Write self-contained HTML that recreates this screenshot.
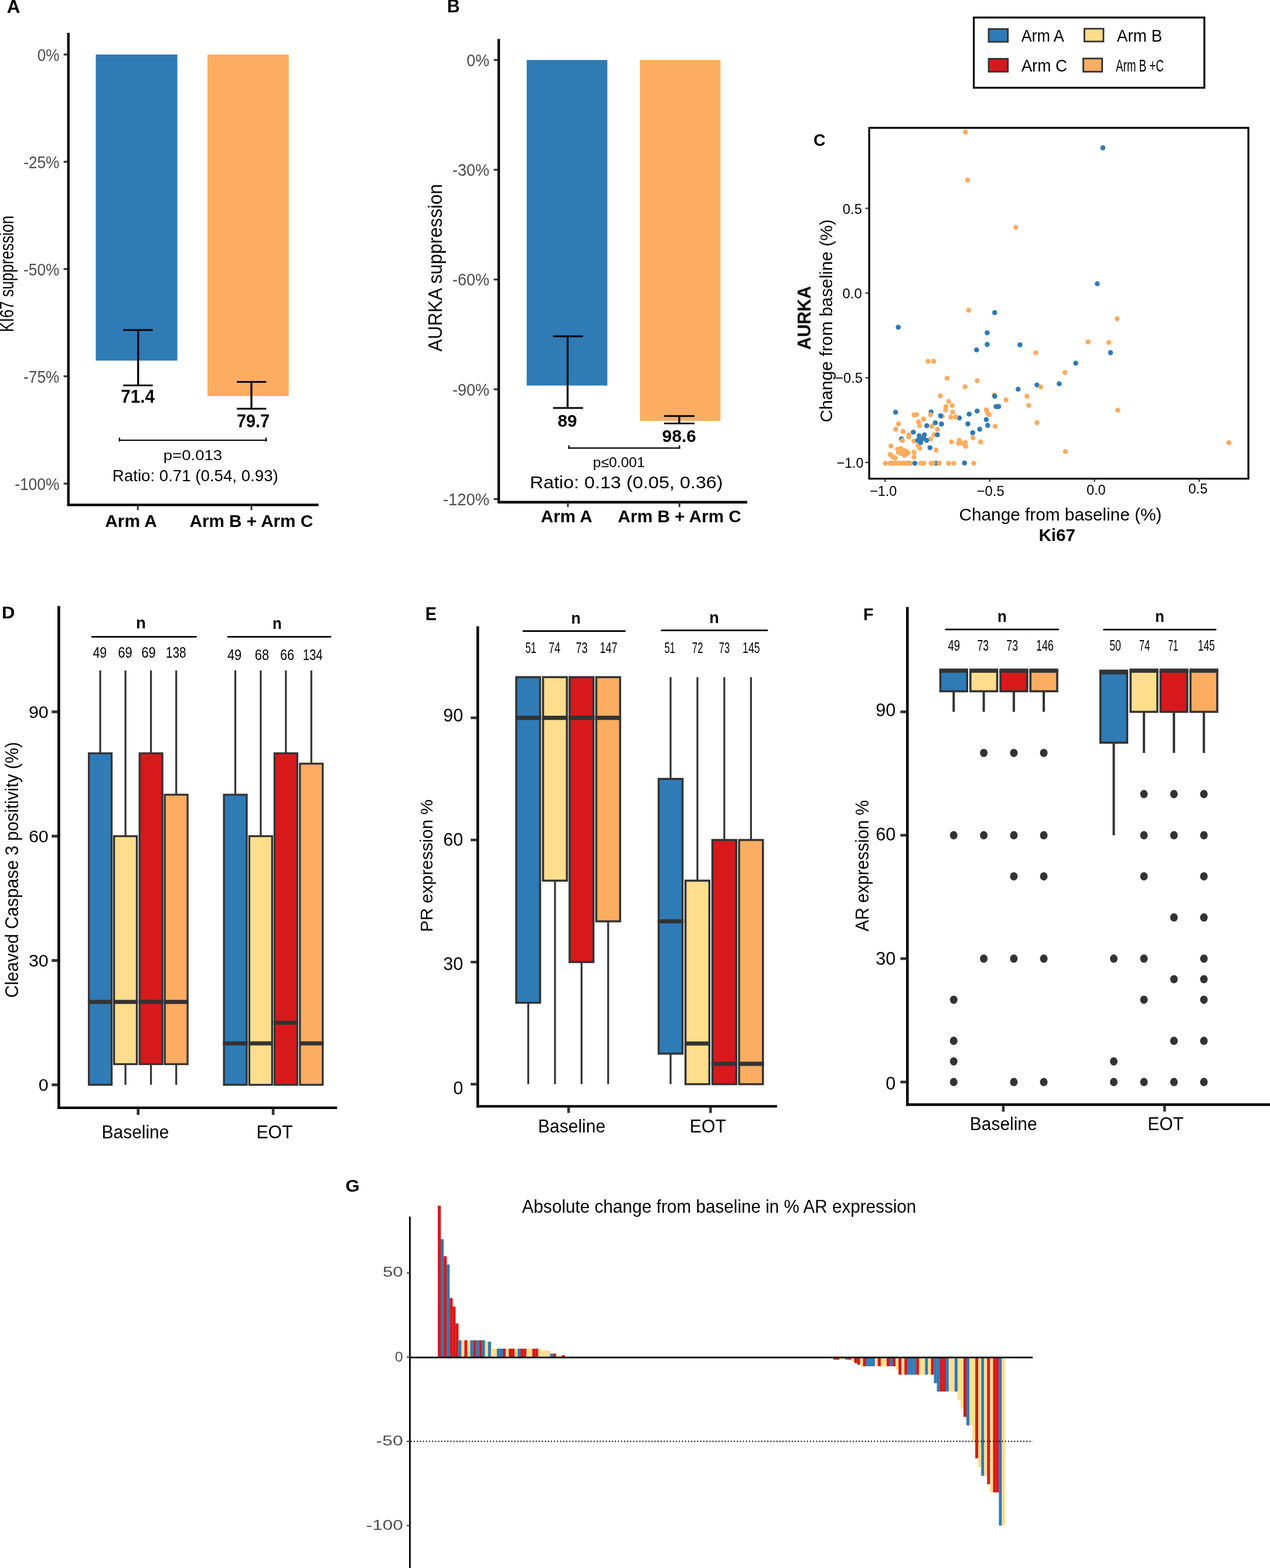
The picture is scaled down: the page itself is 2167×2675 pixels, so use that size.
<!DOCTYPE html><html><head><meta charset="utf-8"><title>Figure</title><style>html,body{margin:0;padding:0;background:#fff;}svg{display:block;}text{font-family:'Liberation Sans', Arial, sans-serif;}</style></head><body>
<svg width="2167" height="2675" viewBox="0 0 2167 2675">
<rect width="2167" height="2675" fill="#fff"/>
<text font-size="32.0" font-weight="bold" transform="translate(11.82 21.70) scale(0.9780 1)">A</text>
<text font-size="33.0" transform="translate(23.00 566.61) rotate(-90) scale(0.7792 1)">KI67 suppression</text>
<rect x="163.5" y="93.0" width="139.1" height="522.2" fill="#2E7BB6"/>
<rect x="354.0" y="93.0" width="138.6" height="582.8" fill="#FCAD61"/>
<line x1="116.7" y1="56.0" x2="116.7" y2="863.0" stroke="#000" stroke-width="4.3"/>
<line x1="114.6" y1="861.4" x2="543.5" y2="861.4" stroke="#000" stroke-width="4.4"/>
<line x1="108.6" y1="93.0" x2="115.0" y2="93.0" stroke="#333333" stroke-width="3.2"/>
<text font-size="30.0" fill="#4D4D4D" transform="translate(63.68 103.60) scale(0.8704 1)">0%</text>
<line x1="108.6" y1="276.0" x2="115.0" y2="276.0" stroke="#333333" stroke-width="3.2"/>
<text font-size="30.0" fill="#4D4D4D" transform="translate(40.14 286.60) scale(0.8751 1)">-25%</text>
<line x1="108.6" y1="459.0" x2="115.0" y2="459.0" stroke="#333333" stroke-width="3.2"/>
<text font-size="30.0" fill="#4D4D4D" transform="translate(40.04 469.60) scale(0.8766 1)">-50%</text>
<line x1="108.6" y1="642.0" x2="115.0" y2="642.0" stroke="#333333" stroke-width="3.2"/>
<text font-size="30.0" fill="#4D4D4D" transform="translate(40.04 652.60) scale(0.8766 1)">-75%</text>
<line x1="108.6" y1="825.0" x2="115.0" y2="825.0" stroke="#333333" stroke-width="3.2"/>
<text font-size="30.0" fill="#4D4D4D" transform="translate(25.14 835.60) scale(0.8799 1)">-100%</text>
<line x1="235.2" y1="861.3" x2="235.2" y2="870.3" stroke="#333333" stroke-width="3.0"/>
<line x1="429.0" y1="861.3" x2="429.0" y2="870.3" stroke="#333333" stroke-width="3.0"/>
<line x1="235.7" y1="563.0" x2="235.7" y2="657.5" stroke="#000" stroke-width="3.3"/>
<line x1="210.2" y1="563.0" x2="260.6" y2="563.0" stroke="#000" stroke-width="2.9"/>
<line x1="210.2" y1="657.5" x2="260.6" y2="657.5" stroke="#000" stroke-width="2.9"/>
<line x1="429.0" y1="651.5" x2="429.0" y2="697.3" stroke="#000" stroke-width="3.3"/>
<line x1="404.0" y1="651.5" x2="454.4" y2="651.5" stroke="#000" stroke-width="2.9"/>
<line x1="404.0" y1="697.3" x2="454.4" y2="697.3" stroke="#000" stroke-width="2.9"/>
<text font-size="30.5" font-weight="bold" transform="translate(206.33 686.90) scale(0.9691 1)">71.4</text>
<text font-size="30.5" font-weight="bold" transform="translate(404.06 728.50) scale(0.9453 1)">79.7</text>
<line x1="202.8" y1="751.0" x2="455.2" y2="751.0" stroke="#000" stroke-width="2.2"/>
<line x1="203.9" y1="746.6" x2="203.9" y2="753.2" stroke="#000" stroke-width="2.2"/>
<line x1="454.1" y1="746.6" x2="454.1" y2="753.2" stroke="#000" stroke-width="2.2"/>
<text font-size="24.7" transform="translate(278.71 785.40) scale(1.1173 1)">p=0.013</text>
<text font-size="27.6" transform="translate(191.83 820.80) scale(1.0027 1)">Ratio: 0.71 (0.54, 0.93)</text>
<text font-size="29.6" font-weight="bold" transform="translate(179.15 898.80) scale(1.0105 1)">Arm A</text>
<text font-size="29.6" font-weight="bold" transform="translate(323.56 898.80) scale(1.0019 1)">Arm B + Arm C</text>
<text font-size="31.5" font-weight="bold" transform="translate(762.77 21.00) scale(0.9628 1)">B</text>
<text font-size="32.5" transform="translate(753.90 599.76) rotate(-90) scale(0.9710 1)">AURKA suppression</text>
<rect x="898.7" y="102.3" width="137.6" height="555.4" fill="#2E7BB6"/>
<rect x="1092.0" y="102.3" width="137.4" height="615.7" fill="#FCAD61"/>
<line x1="851.0" y1="66.5" x2="851.0" y2="858.0" stroke="#000" stroke-width="4.3"/>
<line x1="849.0" y1="856.8" x2="1275.0" y2="856.8" stroke="#000" stroke-width="4.4"/>
<line x1="842.5" y1="102.3" x2="849.5" y2="102.3" stroke="#333333" stroke-width="3.2"/>
<text font-size="28.7" fill="#4D4D4D" transform="translate(796.36 112.80) scale(0.9327 1)">0%</text>
<line x1="842.5" y1="289.6" x2="849.5" y2="289.6" stroke="#333333" stroke-width="3.2"/>
<text font-size="28.7" fill="#4D4D4D" transform="translate(772.01 300.07) scale(0.9410 1)">-30%</text>
<line x1="842.5" y1="476.8" x2="849.5" y2="476.8" stroke="#333333" stroke-width="3.2"/>
<text font-size="28.7" fill="#4D4D4D" transform="translate(772.01 487.35) scale(0.9410 1)">-60%</text>
<line x1="842.5" y1="664.1" x2="849.5" y2="664.1" stroke="#333333" stroke-width="3.2"/>
<text font-size="28.7" fill="#4D4D4D" transform="translate(772.01 674.62) scale(0.9410 1)">-90%</text>
<line x1="842.5" y1="851.4" x2="849.5" y2="851.4" stroke="#333333" stroke-width="3.2"/>
<text font-size="28.7" fill="#4D4D4D" transform="translate(755.89 861.90) scale(0.9544 1)">-120%</text>
<line x1="969.0" y1="856.8" x2="969.0" y2="865.0" stroke="#333333" stroke-width="3.0"/>
<line x1="1159.4" y1="856.8" x2="1159.4" y2="865.0" stroke="#333333" stroke-width="3.0"/>
<line x1="968.5" y1="573.8" x2="968.5" y2="696.0" stroke="#000" stroke-width="3.3"/>
<line x1="943.7" y1="573.8" x2="994.8" y2="573.8" stroke="#000" stroke-width="2.9"/>
<line x1="943.7" y1="696.0" x2="994.8" y2="696.0" stroke="#000" stroke-width="2.9"/>
<line x1="1159.0" y1="709.7" x2="1159.0" y2="722.4" stroke="#000" stroke-width="3.3"/>
<line x1="1133.1" y1="709.7" x2="1185.0" y2="709.7" stroke="#000" stroke-width="2.9"/>
<line x1="1133.1" y1="722.4" x2="1185.0" y2="722.4" stroke="#000" stroke-width="2.9"/>
<text font-size="29.4" font-weight="bold" transform="translate(951.55 728.30) scale(1.0142 1)">89</text>
<text font-size="29.4" font-weight="bold" transform="translate(1129.86 753.50) scale(1.0122 1)">98.6</text>
<line x1="969.6" y1="764.4" x2="1160.5" y2="764.4" stroke="#000" stroke-width="2.2"/>
<line x1="970.7" y1="759.6" x2="970.7" y2="765.5" stroke="#000" stroke-width="2.2"/>
<line x1="1159.4" y1="759.6" x2="1159.4" y2="765.5" stroke="#000" stroke-width="2.2"/>
<text font-size="24.7" transform="translate(1011.80 797.30) scale(0.9945 1)">p≤0.001</text>
<text font-size="28.6" transform="translate(903.96 833.40) scale(1.1268 1)">Ratio: 0.13 (0.05, 0.36)</text>
<text font-size="28.6" font-weight="bold" transform="translate(922.86 891.40) scale(1.0362 1)">Arm A</text>
<text font-size="28.6" font-weight="bold" transform="translate(1054.26 891.40) scale(1.0354 1)">Arm B + Arm C</text>
<rect x="1661.6" y="29.9" width="393.4" height="119.8" fill="none" stroke="#000" stroke-width="3.2"/>
<rect x="1687.0" y="49.5" width="32.7" height="21.8" fill="#2E7BB6" stroke="#333333" stroke-width="2.8"/>
<rect x="1687.0" y="100.3" width="32.7" height="22.0" fill="#D7191C" stroke="#333333" stroke-width="2.8"/>
<rect x="1850.3" y="49.0" width="32.5" height="21.8" fill="#FEDE8D" stroke="#333333" stroke-width="2.8"/>
<rect x="1848.4" y="99.8" width="32.2" height="22.5" fill="#FCAD61" stroke="#333333" stroke-width="2.8"/>
<text font-size="28.8" transform="translate(1742.65 71.30) scale(0.9322 1)">Arm A</text>
<text font-size="28.8" transform="translate(1905.64 71.30) scale(0.9666 1)">Arm B</text>
<text font-size="28.8" transform="translate(1742.64 122.10) scale(0.9622 1)">Arm C</text>
<text font-size="28.8" transform="translate(1903.96 121.60) scale(0.6515 1)">Arm B +C</text>
<text font-size="29.0" font-weight="bold" transform="translate(1388.03 249.00) scale(0.9807 1)">C</text>
<g>
<circle cx="1769.4" cy="656.8" r="4.3" fill="#2E7BB6"/>
<circle cx="1588.7" cy="702.8" r="4.3" fill="#2E7BB6"/>
<circle cx="1636.9" cy="713.0" r="4.3" fill="#2E7BB6"/>
<circle cx="1538.0" cy="748.7" r="4.3" fill="#2E7BB6"/>
<circle cx="1597.0" cy="790.2" r="4.3" fill="#2E7BB6"/>
<circle cx="1550.7" cy="790.2" r="4.3" fill="#2E7BB6"/>
<circle cx="1520.3" cy="790.2" r="4.3" fill="#2E7BB6"/>
<circle cx="1647.3" cy="225.5" r="4.3" fill="#FCAD61"/>
<circle cx="1651.1" cy="307.2" r="4.3" fill="#FCAD61"/>
<circle cx="1733.2" cy="387.8" r="4.3" fill="#FCAD61"/>
<circle cx="1653.0" cy="529.3" r="4.3" fill="#FCAD61"/>
<circle cx="1767.4" cy="601.9" r="4.3" fill="#FCAD61"/>
<circle cx="1856.5" cy="583.2" r="4.3" fill="#FCAD61"/>
<circle cx="1891.8" cy="584.2" r="4.3" fill="#FCAD61"/>
<circle cx="1906.1" cy="543.9" r="4.3" fill="#FCAD61"/>
<circle cx="1583.5" cy="616.4" r="4.3" fill="#FCAD61"/>
<circle cx="1593.0" cy="616.4" r="4.3" fill="#FCAD61"/>
<circle cx="1817.0" cy="635.5" r="4.3" fill="#FCAD61"/>
<circle cx="1616.0" cy="645.2" r="4.3" fill="#FCAD61"/>
<circle cx="1667.5" cy="649.5" r="4.3" fill="#FCAD61"/>
<circle cx="1775.9" cy="660.2" r="4.3" fill="#FCAD61"/>
<circle cx="1646.7" cy="659.7" r="4.3" fill="#FCAD61"/>
<circle cx="1604.4" cy="675.2" r="4.3" fill="#FCAD61"/>
<circle cx="1696.5" cy="673.7" r="4.3" fill="#FCAD61"/>
<circle cx="1752.2" cy="675.9" r="4.3" fill="#FCAD61"/>
<circle cx="1907.3" cy="699.7" r="4.3" fill="#FCAD61"/>
<circle cx="1755.5" cy="691.7" r="4.3" fill="#FCAD61"/>
<circle cx="1769.4" cy="721.1" r="4.3" fill="#FCAD61"/>
<circle cx="1817.9" cy="770.3" r="4.3" fill="#FCAD61"/>
<circle cx="2096.8" cy="755.2" r="4.3" fill="#FCAD61"/>
<circle cx="1618.7" cy="684.7" r="4.3" fill="#FCAD61"/>
<circle cx="1624.8" cy="691.7" r="4.3" fill="#FCAD61"/>
<circle cx="1614.0" cy="693.6" r="4.3" fill="#FCAD61"/>
<circle cx="1613.4" cy="699.3" r="4.3" fill="#FCAD61"/>
<circle cx="1625.5" cy="703.1" r="4.3" fill="#FCAD61"/>
<circle cx="1622.3" cy="711.7" r="4.3" fill="#FCAD61"/>
<circle cx="1630.5" cy="711.3" r="4.3" fill="#FCAD61"/>
<circle cx="1607.7" cy="710.0" r="4.3" fill="#FCAD61"/>
<circle cx="1587.8" cy="707.5" r="4.3" fill="#FCAD61"/>
<circle cx="1559.6" cy="707.9" r="4.3" fill="#FCAD61"/>
<circle cx="1564.0" cy="707.5" r="4.3" fill="#FCAD61"/>
<circle cx="1575.8" cy="715.1" r="4.3" fill="#FCAD61"/>
<circle cx="1567.2" cy="719.6" r="4.3" fill="#FCAD61"/>
<circle cx="1569.1" cy="725.9" r="4.3" fill="#FCAD61"/>
<circle cx="1533.0" cy="723.0" r="4.3" fill="#FCAD61"/>
<circle cx="1528.5" cy="732.2" r="4.3" fill="#FCAD61"/>
<circle cx="1540.8" cy="736.0" r="4.3" fill="#FCAD61"/>
<circle cx="1550.7" cy="741.7" r="4.3" fill="#FCAD61"/>
<circle cx="1550.7" cy="745.5" r="4.3" fill="#FCAD61"/>
<circle cx="1590.0" cy="727.2" r="4.3" fill="#FCAD61"/>
<circle cx="1599.5" cy="732.2" r="4.3" fill="#FCAD61"/>
<circle cx="1593.8" cy="741.7" r="4.3" fill="#FCAD61"/>
<circle cx="1587.8" cy="748.7" r="4.3" fill="#FCAD61"/>
<circle cx="1559.6" cy="752.5" r="4.3" fill="#FCAD61"/>
<circle cx="1539.7" cy="751.5" r="4.3" fill="#FCAD61"/>
<circle cx="1520.3" cy="761.0" r="4.3" fill="#FCAD61"/>
<circle cx="1569.1" cy="764.6" r="4.3" fill="#FCAD61"/>
<circle cx="1566.5" cy="760.1" r="4.3" fill="#FCAD61"/>
<circle cx="1597.2" cy="767.7" r="4.3" fill="#FCAD61"/>
<circle cx="1531.7" cy="766.5" r="4.3" fill="#FCAD61"/>
<circle cx="1536.8" cy="765.2" r="4.3" fill="#FCAD61"/>
<circle cx="1541.8" cy="767.7" r="4.3" fill="#FCAD61"/>
<circle cx="1546.9" cy="770.3" r="4.3" fill="#FCAD61"/>
<circle cx="1549.4" cy="772.8" r="4.3" fill="#FCAD61"/>
<circle cx="1533.0" cy="771.5" r="4.3" fill="#FCAD61"/>
<circle cx="1543.1" cy="776.6" r="4.3" fill="#FCAD61"/>
<circle cx="1538.0" cy="774.0" r="4.3" fill="#FCAD61"/>
<circle cx="1545.6" cy="775.3" r="4.3" fill="#FCAD61"/>
<circle cx="1519.0" cy="775.3" r="4.3" fill="#FCAD61"/>
<circle cx="1522.8" cy="779.1" r="4.3" fill="#FCAD61"/>
<circle cx="1527.2" cy="781.4" r="4.3" fill="#FCAD61"/>
<circle cx="1559.6" cy="771.5" r="4.3" fill="#FCAD61"/>
<circle cx="1559.6" cy="779.8" r="4.3" fill="#FCAD61"/>
<circle cx="1623.6" cy="753.8" r="4.3" fill="#FCAD61"/>
<circle cx="1637.0" cy="751.2" r="4.3" fill="#FCAD61"/>
<circle cx="1635.6" cy="756.3" r="4.3" fill="#FCAD61"/>
<circle cx="1642.0" cy="756.3" r="4.3" fill="#FCAD61"/>
<circle cx="1647.0" cy="755.0" r="4.3" fill="#FCAD61"/>
<circle cx="1647.7" cy="761.4" r="4.3" fill="#FCAD61"/>
<circle cx="1660.0" cy="746.8" r="4.3" fill="#FCAD61"/>
<circle cx="1673.2" cy="753.8" r="4.3" fill="#FCAD61"/>
<circle cx="1683.1" cy="699.3" r="4.3" fill="#FCAD61"/>
<circle cx="1687.6" cy="707.5" r="4.3" fill="#FCAD61"/>
<circle cx="1685.0" cy="704.4" r="4.3" fill="#FCAD61"/>
<circle cx="1698.0" cy="727.2" r="4.3" fill="#FCAD61"/>
<circle cx="1716.7" cy="682.2" r="4.3" fill="#FCAD61"/>
<circle cx="1510.8" cy="790.2" r="4.3" fill="#FCAD61"/>
<circle cx="1519.0" cy="790.2" r="4.3" fill="#FCAD61"/>
<circle cx="1523.0" cy="790.2" r="4.3" fill="#FCAD61"/>
<circle cx="1527.0" cy="790.2" r="4.3" fill="#FCAD61"/>
<circle cx="1531.0" cy="790.2" r="4.3" fill="#FCAD61"/>
<circle cx="1535.0" cy="790.2" r="4.3" fill="#FCAD61"/>
<circle cx="1539.0" cy="790.2" r="4.3" fill="#FCAD61"/>
<circle cx="1543.0" cy="790.2" r="4.3" fill="#FCAD61"/>
<circle cx="1547.0" cy="790.2" r="4.3" fill="#FCAD61"/>
<circle cx="1553.2" cy="790.2" r="4.3" fill="#FCAD61"/>
<circle cx="1571.0" cy="790.2" r="4.3" fill="#FCAD61"/>
<circle cx="1576.0" cy="790.2" r="4.3" fill="#FCAD61"/>
<circle cx="1588.7" cy="790.2" r="4.3" fill="#FCAD61"/>
<circle cx="1602.6" cy="790.2" r="4.3" fill="#FCAD61"/>
<circle cx="1618.5" cy="790.2" r="4.3" fill="#FCAD61"/>
<circle cx="1627.4" cy="790.2" r="4.3" fill="#FCAD61"/>
<circle cx="1661.6" cy="790.2" r="4.3" fill="#FCAD61"/>
<circle cx="1592.0" cy="790.2" r="4.3" fill="#FCAD61"/>
<circle cx="1881.9" cy="252.1" r="4.3" fill="#2E7BB6"/>
<circle cx="1872.3" cy="484.0" r="4.3" fill="#2E7BB6"/>
<circle cx="1697.3" cy="533.4" r="4.3" fill="#2E7BB6"/>
<circle cx="1532.7" cy="558.3" r="4.3" fill="#2E7BB6"/>
<circle cx="1684.4" cy="567.7" r="4.3" fill="#2E7BB6"/>
<circle cx="1684.4" cy="587.6" r="4.3" fill="#2E7BB6"/>
<circle cx="1740.3" cy="588.3" r="4.3" fill="#2E7BB6"/>
<circle cx="1666.3" cy="597.0" r="4.3" fill="#2E7BB6"/>
<circle cx="1894.9" cy="601.6" r="4.3" fill="#2E7BB6"/>
<circle cx="1835.6" cy="619.5" r="4.3" fill="#2E7BB6"/>
<circle cx="1807.3" cy="654.8" r="4.3" fill="#2E7BB6"/>
<circle cx="1737.2" cy="664.0" r="4.3" fill="#2E7BB6"/>
<circle cx="1697.3" cy="675.9" r="4.3" fill="#2E7BB6"/>
<circle cx="1528.1" cy="703.3" r="4.3" fill="#2E7BB6"/>
<circle cx="1604.9" cy="709.4" r="4.3" fill="#2E7BB6"/>
<circle cx="1653.7" cy="706.5" r="4.3" fill="#2E7BB6"/>
<circle cx="1667.3" cy="701.3" r="4.3" fill="#2E7BB6"/>
<circle cx="1699.6" cy="693.6" r="4.3" fill="#2E7BB6"/>
<circle cx="1704.0" cy="693.6" r="4.3" fill="#2E7BB6"/>
<circle cx="1682.9" cy="715.8" r="4.3" fill="#2E7BB6"/>
<circle cx="1685.3" cy="725.6" r="4.3" fill="#2E7BB6"/>
<circle cx="1671.7" cy="732.2" r="4.3" fill="#2E7BB6"/>
<circle cx="1659.7" cy="738.3" r="4.3" fill="#2E7BB6"/>
<circle cx="1651.4" cy="723.1" r="4.3" fill="#2E7BB6"/>
<circle cx="1606.5" cy="723.4" r="4.3" fill="#2E7BB6"/>
<circle cx="1595.9" cy="721.2" r="4.3" fill="#2E7BB6"/>
<circle cx="1581.4" cy="726.2" r="4.3" fill="#2E7BB6"/>
<circle cx="1558.4" cy="737.3" r="4.3" fill="#2E7BB6"/>
<circle cx="1599.5" cy="741.7" r="4.3" fill="#2E7BB6"/>
<circle cx="1568.4" cy="743.6" r="4.3" fill="#2E7BB6"/>
<circle cx="1577.3" cy="741.7" r="4.3" fill="#2E7BB6"/>
<circle cx="1565.9" cy="751.2" r="4.3" fill="#2E7BB6"/>
<circle cx="1571.0" cy="755.0" r="4.3" fill="#2E7BB6"/>
<circle cx="1576.0" cy="747.4" r="4.3" fill="#2E7BB6"/>
<circle cx="1581.1" cy="751.2" r="4.3" fill="#2E7BB6"/>
<circle cx="1572.2" cy="750.0" r="4.3" fill="#2E7BB6"/>
<circle cx="1586.8" cy="763.7" r="4.3" fill="#2E7BB6"/>
<circle cx="1561.1" cy="790.2" r="4.3" fill="#2E7BB6"/>
<circle cx="1645.7" cy="789.9" r="4.3" fill="#2E7BB6"/>
</g>
<rect x="1483.1" y="218.1" width="647.0" height="598.5" fill="none" stroke="#000" stroke-width="3.2"/>
<line x1="1476.5" y1="355.5" x2="1482.0" y2="355.5" stroke="#333333" stroke-width="2.2"/>
<text font-size="24.4" transform="translate(1437.87 365.10) scale(0.9737 1)">0.5</text>
<line x1="1476.5" y1="500.0" x2="1482.0" y2="500.0" stroke="#333333" stroke-width="2.2"/>
<text font-size="24.4" transform="translate(1437.57 508.80) scale(0.9746 1)">0.0</text>
<line x1="1476.5" y1="644.5" x2="1482.0" y2="644.5" stroke="#333333" stroke-width="2.2"/>
<text font-size="24.4" transform="translate(1425.24 653.40) scale(0.9707 1)">−0.5</text>
<line x1="1476.5" y1="789.0" x2="1482.0" y2="789.0" stroke="#333333" stroke-width="2.2"/>
<text font-size="24.4" transform="translate(1427.66 797.60) scale(0.9496 1)">−1.0</text>
<line x1="1510.1" y1="818.0" x2="1510.1" y2="822.0" stroke="#333333" stroke-width="2.2"/>
<text font-size="24.4" transform="translate(1484.15 846.00) scale(0.9605 1)">−1.0</text>
<line x1="1688.8" y1="818.0" x2="1688.8" y2="822.0" stroke="#333333" stroke-width="2.2"/>
<text font-size="24.4" transform="translate(1666.53 845.50) scale(0.9794 1)">−0.5</text>
<line x1="1867.5" y1="818.0" x2="1867.5" y2="822.0" stroke="#333333" stroke-width="2.2"/>
<text font-size="24.4" transform="translate(1853.99 843.90) scale(0.9590 1)">0.0</text>
<line x1="2046.2" y1="818.0" x2="2046.2" y2="822.0" stroke="#333333" stroke-width="2.2"/>
<text font-size="24.4" transform="translate(2027.78 842.10) scale(0.9643 1)">0.5</text>
<text font-size="29.0" transform="translate(1636.48 888.30) scale(1.0272 1)">Change from baseline (%)</text>
<text font-size="29.0" font-weight="bold" transform="translate(1772.52 922.70) scale(1.0167 1)">Ki67</text>
<text font-size="29.5" transform="translate(1420.20 720.62) rotate(-90) scale(1.0110 1)">Change from baseline (%)</text>
<text font-size="31.0" font-weight="bold" transform="translate(1382.60 596.75) rotate(-90) scale(0.9732 1)">AURKA</text>
<text font-size="29.5" font-weight="bold" transform="translate(3.12 1055.30) scale(1.0507 1)">D</text>
<text font-size="31.8" transform="translate(31.10 1702.32) rotate(-90) scale(0.9356 1)">Cleaved Caspase 3 positivity (%)</text>
<line x1="171.0" y1="1143.7" x2="171.0" y2="1285.1" stroke="#333333" stroke-width="3.2"/>
<line x1="214.1" y1="1143.7" x2="214.1" y2="1426.5" stroke="#333333" stroke-width="3.2"/>
<line x1="214.1" y1="1815.4" x2="214.1" y2="1850.7" stroke="#333333" stroke-width="3.2"/>
<line x1="257.6" y1="1143.7" x2="257.6" y2="1285.1" stroke="#333333" stroke-width="3.2"/>
<line x1="257.6" y1="1815.4" x2="257.6" y2="1850.7" stroke="#333333" stroke-width="3.2"/>
<line x1="300.7" y1="1143.7" x2="300.7" y2="1355.8" stroke="#333333" stroke-width="3.2"/>
<line x1="300.7" y1="1815.4" x2="300.7" y2="1850.7" stroke="#333333" stroke-width="3.2"/>
<line x1="401.5" y1="1143.7" x2="401.5" y2="1355.8" stroke="#333333" stroke-width="3.2"/>
<line x1="444.9" y1="1143.7" x2="444.9" y2="1426.5" stroke="#333333" stroke-width="3.2"/>
<line x1="487.8" y1="1143.7" x2="487.8" y2="1285.1" stroke="#333333" stroke-width="3.2"/>
<line x1="531.2" y1="1143.7" x2="531.2" y2="1302.8" stroke="#333333" stroke-width="3.2"/>
<rect x="151.6" y="1285.1" width="38.9" height="565.6" fill="#2E7BB6" stroke="#333333" stroke-width="3.3"/>
<line x1="149.9" y1="1709.3" x2="192.1" y2="1709.3" stroke="#333333" stroke-width="7.1"/>
<rect x="194.6" y="1426.5" width="38.9" height="388.9" fill="#FEDE8D" stroke="#333333" stroke-width="3.3"/>
<line x1="193.0" y1="1709.3" x2="235.2" y2="1709.3" stroke="#333333" stroke-width="7.1"/>
<rect x="238.2" y="1285.1" width="38.9" height="530.3" fill="#D7191C" stroke="#333333" stroke-width="3.3"/>
<line x1="236.5" y1="1709.3" x2="278.7" y2="1709.3" stroke="#333333" stroke-width="7.1"/>
<rect x="281.2" y="1355.8" width="38.9" height="459.6" fill="#FCAD61" stroke="#333333" stroke-width="3.3"/>
<line x1="279.6" y1="1709.3" x2="321.8" y2="1709.3" stroke="#333333" stroke-width="7.1"/>
<rect x="382.1" y="1355.8" width="38.9" height="494.9" fill="#2E7BB6" stroke="#333333" stroke-width="3.3"/>
<line x1="380.4" y1="1780.0" x2="422.6" y2="1780.0" stroke="#333333" stroke-width="7.1"/>
<rect x="425.4" y="1426.5" width="38.9" height="424.2" fill="#FEDE8D" stroke="#333333" stroke-width="3.3"/>
<line x1="423.8" y1="1780.0" x2="466.0" y2="1780.0" stroke="#333333" stroke-width="7.1"/>
<rect x="468.4" y="1285.1" width="38.9" height="565.6" fill="#D7191C" stroke="#333333" stroke-width="3.3"/>
<line x1="466.7" y1="1744.7" x2="508.9" y2="1744.7" stroke="#333333" stroke-width="7.1"/>
<rect x="511.8" y="1302.8" width="38.9" height="547.9" fill="#FCAD61" stroke="#333333" stroke-width="3.3"/>
<line x1="510.1" y1="1780.0" x2="552.3" y2="1780.0" stroke="#333333" stroke-width="7.1"/>
<line x1="100.3" y1="1033.7" x2="100.3" y2="1892.0" stroke="#000" stroke-width="4.6"/>
<line x1="98.0" y1="1889.9" x2="575.3" y2="1889.9" stroke="#000" stroke-width="4.3"/>
<line x1="88.2" y1="1850.7" x2="98.5" y2="1850.7" stroke="#333333" stroke-width="4.8"/>
<text font-size="30.4" transform="translate(65.78 1861.40) scale(1.0000 1)">0</text>
<line x1="88.2" y1="1638.6" x2="98.5" y2="1638.6" stroke="#333333" stroke-width="4.8"/>
<text font-size="30.4" transform="translate(48.88 1649.30) scale(1.0000 1)">30</text>
<line x1="88.2" y1="1426.5" x2="98.5" y2="1426.5" stroke="#333333" stroke-width="4.8"/>
<text font-size="30.4" transform="translate(48.88 1437.20) scale(1.0000 1)">60</text>
<line x1="88.2" y1="1214.4" x2="98.5" y2="1214.4" stroke="#333333" stroke-width="4.8"/>
<text font-size="30.4" transform="translate(48.88 1225.10) scale(1.0000 1)">90</text>
<line x1="235.7" y1="1891.0" x2="235.7" y2="1902.0" stroke="#333333" stroke-width="4.6"/>
<line x1="466.1" y1="1891.0" x2="466.1" y2="1902.0" stroke="#333333" stroke-width="4.6"/>
<text font-size="31.4" transform="translate(173.54 1942.20) scale(0.9537 1)">Baseline</text>
<text font-size="31.4" transform="translate(437.42 1942.20) scale(0.9647 1)">EOT</text>
<text font-size="28.0" font-weight="bold" transform="translate(231.98 1072.30) scale(0.9834 1)">n</text>
<text font-size="28.0" font-weight="bold" transform="translate(464.91 1073.20) scale(0.9169 1)">n</text>
<line x1="157.1" y1="1086.3" x2="334.5" y2="1086.3" stroke="#000" stroke-width="2.8" stroke-linecap="round"/>
<line x1="389.0" y1="1086.3" x2="563.9" y2="1086.3" stroke="#000" stroke-width="2.8" stroke-linecap="round"/>
<text font-size="25.5" transform="translate(158.51 1122.40) scale(0.8355 1)">49</text>
<text font-size="25.5" transform="translate(201.28 1122.40) scale(0.8624 1)">69</text>
<text font-size="25.5" transform="translate(241.27 1122.40) scale(0.8663 1)">69</text>
<text font-size="25.5" transform="translate(282.92 1122.40) scale(0.8177 1)">138</text>
<text font-size="25.5" transform="translate(387.90 1125.50) scale(0.8581 1)">49</text>
<text font-size="25.5" transform="translate(434.79 1125.50) scale(0.8552 1)">68</text>
<text font-size="25.5" transform="translate(478.10 1125.50) scale(0.8483 1)">66</text>
<text font-size="25.5" transform="translate(516.76 1125.50) scale(0.7954 1)">134</text>
<text font-size="31.0" font-weight="bold" transform="translate(725.87 1058.30) scale(0.9315 1)">E</text>
<text font-size="30.2" transform="translate(738.40 1590.12) rotate(-90) scale(0.9781 1)">PR expression %</text>
<line x1="901.3" y1="1710.7" x2="901.3" y2="1849.6" stroke="#333333" stroke-width="3.2"/>
<line x1="947.0" y1="1502.4" x2="947.0" y2="1849.6" stroke="#333333" stroke-width="3.2"/>
<line x1="992.3" y1="1641.3" x2="992.3" y2="1849.6" stroke="#333333" stroke-width="3.2"/>
<line x1="1037.7" y1="1571.8" x2="1037.7" y2="1849.6" stroke="#333333" stroke-width="3.2"/>
<line x1="1144.2" y1="1155.2" x2="1144.2" y2="1328.8" stroke="#333333" stroke-width="3.2"/>
<line x1="1144.2" y1="1797.5" x2="1144.2" y2="1849.6" stroke="#333333" stroke-width="3.2"/>
<line x1="1190.0" y1="1155.2" x2="1190.0" y2="1502.4" stroke="#333333" stroke-width="3.2"/>
<line x1="1235.9" y1="1155.2" x2="1235.9" y2="1433.0" stroke="#333333" stroke-width="3.2"/>
<line x1="1281.4" y1="1155.2" x2="1281.4" y2="1433.0" stroke="#333333" stroke-width="3.2"/>
<rect x="880.9" y="1155.2" width="40.7" height="555.5" fill="#2E7BB6" stroke="#333333" stroke-width="3.5"/>
<line x1="879.2" y1="1224.6" x2="923.4" y2="1224.6" stroke="#333333" stroke-width="7.1"/>
<rect x="926.6" y="1155.2" width="40.7" height="347.2" fill="#FEDE8D" stroke="#333333" stroke-width="3.5"/>
<line x1="924.9" y1="1224.6" x2="969.1" y2="1224.6" stroke="#333333" stroke-width="7.1"/>
<rect x="971.9" y="1155.2" width="40.7" height="486.1" fill="#D7191C" stroke="#333333" stroke-width="3.5"/>
<line x1="970.2" y1="1224.6" x2="1014.4" y2="1224.6" stroke="#333333" stroke-width="7.1"/>
<rect x="1017.4" y="1155.2" width="40.7" height="416.6" fill="#FCAD61" stroke="#333333" stroke-width="3.5"/>
<line x1="1015.6" y1="1224.6" x2="1059.8" y2="1224.6" stroke="#333333" stroke-width="7.1"/>
<rect x="1123.9" y="1328.8" width="40.7" height="468.7" fill="#2E7BB6" stroke="#333333" stroke-width="3.5"/>
<line x1="1122.1" y1="1571.8" x2="1166.3" y2="1571.8" stroke="#333333" stroke-width="7.1"/>
<rect x="1169.7" y="1502.4" width="40.7" height="347.2" fill="#FEDE8D" stroke="#333333" stroke-width="3.5"/>
<line x1="1167.9" y1="1780.2" x2="1212.1" y2="1780.2" stroke="#333333" stroke-width="7.1"/>
<rect x="1215.6" y="1433.0" width="40.7" height="416.6" fill="#D7191C" stroke="#333333" stroke-width="3.5"/>
<line x1="1213.8" y1="1814.9" x2="1258.0" y2="1814.9" stroke="#333333" stroke-width="7.1"/>
<rect x="1261.1" y="1433.0" width="40.7" height="416.6" fill="#FCAD61" stroke="#333333" stroke-width="3.5"/>
<line x1="1259.3" y1="1814.9" x2="1303.5" y2="1814.9" stroke="#333333" stroke-width="7.1"/>
<line x1="815.2" y1="1068.4" x2="815.2" y2="1889.6" stroke="#000" stroke-width="4.5"/>
<line x1="813.0" y1="1887.4" x2="1326.0" y2="1887.4" stroke="#000" stroke-width="4.4"/>
<line x1="803.1" y1="1849.6" x2="813.5" y2="1849.6" stroke="#333333" stroke-width="4.4"/>
<text font-size="30.6" transform="translate(773.18 1867.40) scale(1.0000 1)">0</text>
<line x1="803.1" y1="1641.3" x2="813.5" y2="1641.3" stroke="#333333" stroke-width="4.4"/>
<text font-size="30.6" transform="translate(756.17 1655.18) scale(1.0000 1)">30</text>
<line x1="803.1" y1="1433.0" x2="813.5" y2="1433.0" stroke="#333333" stroke-width="4.4"/>
<text font-size="30.6" transform="translate(756.17 1442.96) scale(1.0000 1)">60</text>
<line x1="803.1" y1="1224.6" x2="813.5" y2="1224.6" stroke="#333333" stroke-width="4.4"/>
<text font-size="30.6" transform="translate(756.17 1230.74) scale(1.0000 1)">90</text>
<line x1="970.2" y1="1889.0" x2="970.2" y2="1898.7" stroke="#333333" stroke-width="4.6"/>
<line x1="1212.4" y1="1889.0" x2="1212.4" y2="1898.7" stroke="#333333" stroke-width="4.6"/>
<text font-size="30.5" transform="translate(918.04 1931.90) scale(0.9836 1)">Baseline</text>
<text font-size="30.5" transform="translate(1176.82 1931.90) scale(0.9915 1)">EOT</text>
<text font-size="28.0" font-weight="bold" transform="translate(974.44 1064.00) scale(0.9539 1)">n</text>
<text font-size="28.0" font-weight="bold" transform="translate(1210.21 1062.70) scale(0.9686 1)">n</text>
<line x1="892.8" y1="1076.6" x2="1066.4" y2="1076.6" stroke="#000" stroke-width="2.8" stroke-linecap="round"/>
<line x1="1129.0" y1="1075.4" x2="1309.0" y2="1075.4" stroke="#000" stroke-width="2.8" stroke-linecap="round"/>
<text font-size="25.5" transform="translate(896.53 1113.60) scale(0.6593 1)">51</text>
<text font-size="25.5" transform="translate(936.30 1113.60) scale(0.6954 1)">74</text>
<text font-size="25.5" transform="translate(982.48 1113.60) scale(0.7095 1)">73</text>
<text font-size="25.5" transform="translate(1023.54 1113.60) scale(0.7019 1)">147</text>
<text font-size="25.5" transform="translate(1133.64 1113.60) scale(0.6478 1)">51</text>
<text font-size="25.5" transform="translate(1180.74 1113.60) scale(0.6633 1)">72</text>
<text font-size="25.5" transform="translate(1226.76 1113.60) scale(0.6440 1)">73</text>
<text font-size="25.5" transform="translate(1267.05 1113.60) scale(0.6983 1)">145</text>
<text font-size="29.5" font-weight="bold" transform="translate(1472.98 1058.20) scale(0.9695 1)">F</text>
<text font-size="31.5" transform="translate(1481.60 1589.06) rotate(-90) scale(0.9283 1)">AR expression %</text>
<ellipse cx="1627.3" cy="1424.9" rx="6.5" ry="7.1" fill="#333333"/>
<ellipse cx="1627.3" cy="1705.6" rx="6.5" ry="7.1" fill="#333333"/>
<ellipse cx="1627.3" cy="1775.7" rx="6.5" ry="7.1" fill="#333333"/>
<ellipse cx="1627.3" cy="1810.8" rx="6.5" ry="7.1" fill="#333333"/>
<ellipse cx="1627.3" cy="1845.9" rx="6.5" ry="7.1" fill="#333333"/>
<ellipse cx="1678.6" cy="1284.5" rx="6.5" ry="7.1" fill="#333333"/>
<ellipse cx="1678.6" cy="1424.9" rx="6.5" ry="7.1" fill="#333333"/>
<ellipse cx="1678.6" cy="1635.4" rx="6.5" ry="7.1" fill="#333333"/>
<ellipse cx="1729.9" cy="1284.5" rx="6.5" ry="7.1" fill="#333333"/>
<ellipse cx="1729.9" cy="1424.9" rx="6.5" ry="7.1" fill="#333333"/>
<ellipse cx="1729.9" cy="1495.1" rx="6.5" ry="7.1" fill="#333333"/>
<ellipse cx="1729.9" cy="1635.4" rx="6.5" ry="7.1" fill="#333333"/>
<ellipse cx="1729.9" cy="1845.9" rx="6.5" ry="7.1" fill="#333333"/>
<ellipse cx="1781.0" cy="1284.5" rx="6.5" ry="7.1" fill="#333333"/>
<ellipse cx="1781.0" cy="1424.9" rx="6.5" ry="7.1" fill="#333333"/>
<ellipse cx="1781.0" cy="1495.1" rx="6.5" ry="7.1" fill="#333333"/>
<ellipse cx="1781.0" cy="1635.4" rx="6.5" ry="7.1" fill="#333333"/>
<ellipse cx="1781.0" cy="1845.9" rx="6.5" ry="7.1" fill="#333333"/>
<ellipse cx="1900.4" cy="1635.4" rx="6.5" ry="7.1" fill="#333333"/>
<ellipse cx="1900.4" cy="1810.8" rx="6.5" ry="7.1" fill="#333333"/>
<ellipse cx="1900.4" cy="1845.9" rx="6.5" ry="7.1" fill="#333333"/>
<ellipse cx="1951.9" cy="1354.7" rx="6.5" ry="7.1" fill="#333333"/>
<ellipse cx="1951.9" cy="1424.9" rx="6.5" ry="7.1" fill="#333333"/>
<ellipse cx="1951.9" cy="1495.1" rx="6.5" ry="7.1" fill="#333333"/>
<ellipse cx="1951.9" cy="1635.4" rx="6.5" ry="7.1" fill="#333333"/>
<ellipse cx="1951.9" cy="1705.6" rx="6.5" ry="7.1" fill="#333333"/>
<ellipse cx="1951.9" cy="1845.9" rx="6.5" ry="7.1" fill="#333333"/>
<ellipse cx="2003.1" cy="1354.7" rx="6.5" ry="7.1" fill="#333333"/>
<ellipse cx="2003.1" cy="1424.9" rx="6.5" ry="7.1" fill="#333333"/>
<ellipse cx="2003.1" cy="1565.2" rx="6.5" ry="7.1" fill="#333333"/>
<ellipse cx="2003.1" cy="1670.5" rx="6.5" ry="7.1" fill="#333333"/>
<ellipse cx="2003.1" cy="1775.7" rx="6.5" ry="7.1" fill="#333333"/>
<ellipse cx="2003.1" cy="1845.9" rx="6.5" ry="7.1" fill="#333333"/>
<ellipse cx="2054.2" cy="1354.7" rx="6.5" ry="7.1" fill="#333333"/>
<ellipse cx="2054.2" cy="1424.9" rx="6.5" ry="7.1" fill="#333333"/>
<ellipse cx="2054.2" cy="1495.1" rx="6.5" ry="7.1" fill="#333333"/>
<ellipse cx="2054.2" cy="1565.2" rx="6.5" ry="7.1" fill="#333333"/>
<ellipse cx="2054.2" cy="1635.4" rx="6.5" ry="7.1" fill="#333333"/>
<ellipse cx="2054.2" cy="1670.5" rx="6.5" ry="7.1" fill="#333333"/>
<ellipse cx="2054.2" cy="1705.6" rx="6.5" ry="7.1" fill="#333333"/>
<ellipse cx="2054.2" cy="1775.7" rx="6.5" ry="7.1" fill="#333333"/>
<ellipse cx="2054.2" cy="1845.9" rx="6.5" ry="7.1" fill="#333333"/>
<line x1="1627.3" y1="1179.3" x2="1627.3" y2="1214.4" stroke="#333333" stroke-width="4.0"/>
<line x1="1678.6" y1="1179.3" x2="1678.6" y2="1214.4" stroke="#333333" stroke-width="4.0"/>
<line x1="1729.9" y1="1179.3" x2="1729.9" y2="1214.4" stroke="#333333" stroke-width="4.0"/>
<line x1="1781.0" y1="1179.3" x2="1781.0" y2="1214.4" stroke="#333333" stroke-width="4.0"/>
<line x1="1900.4" y1="1267.0" x2="1900.4" y2="1424.9" stroke="#333333" stroke-width="4.0"/>
<line x1="1951.9" y1="1214.4" x2="1951.9" y2="1284.5" stroke="#333333" stroke-width="4.0"/>
<line x1="2003.1" y1="1214.4" x2="2003.1" y2="1284.5" stroke="#333333" stroke-width="4.0"/>
<line x1="2054.2" y1="1214.4" x2="2054.2" y2="1284.5" stroke="#333333" stroke-width="4.0"/>
<rect x="1604.5" y="1144.2" width="45.7" height="35.1" fill="#2E7BB6" stroke="#333333" stroke-width="3.6"/>
<line x1="1602.7" y1="1144.2" x2="1651.9" y2="1144.2" stroke="#333333" stroke-width="7.2"/>
<rect x="1655.8" y="1144.2" width="45.7" height="35.1" fill="#FEDE8D" stroke="#333333" stroke-width="3.6"/>
<line x1="1654.0" y1="1144.2" x2="1703.2" y2="1144.2" stroke="#333333" stroke-width="7.2"/>
<rect x="1707.1" y="1144.2" width="45.7" height="35.1" fill="#D7191C" stroke="#333333" stroke-width="3.6"/>
<line x1="1705.3" y1="1144.2" x2="1754.5" y2="1144.2" stroke="#333333" stroke-width="7.2"/>
<rect x="1758.2" y="1144.2" width="45.7" height="35.1" fill="#FCAD61" stroke="#333333" stroke-width="3.6"/>
<line x1="1756.4" y1="1144.2" x2="1805.6" y2="1144.2" stroke="#333333" stroke-width="7.2"/>
<rect x="1877.6" y="1144.2" width="45.7" height="122.8" fill="#2E7BB6" stroke="#333333" stroke-width="3.6"/>
<line x1="1875.8" y1="1147.0" x2="1925.0" y2="1147.0" stroke="#333333" stroke-width="7.2"/>
<rect x="1929.1" y="1144.2" width="45.7" height="70.2" fill="#FEDE8D" stroke="#333333" stroke-width="3.6"/>
<line x1="1927.3" y1="1144.2" x2="1976.5" y2="1144.2" stroke="#333333" stroke-width="7.2"/>
<rect x="1980.2" y="1144.2" width="45.7" height="70.2" fill="#D7191C" stroke="#333333" stroke-width="3.6"/>
<line x1="1978.5" y1="1144.2" x2="2027.7" y2="1144.2" stroke="#333333" stroke-width="7.2"/>
<rect x="2031.3" y="1144.2" width="45.7" height="70.2" fill="#FCAD61" stroke="#333333" stroke-width="3.6"/>
<line x1="2029.5" y1="1144.2" x2="2078.8" y2="1144.2" stroke="#333333" stroke-width="7.2"/>
<line x1="1548.3" y1="1035.4" x2="1548.3" y2="1886.6" stroke="#000" stroke-width="4.5"/>
<line x1="1546.0" y1="1884.4" x2="2167.0" y2="1884.4" stroke="#000" stroke-width="4.5"/>
<line x1="1536.3" y1="1845.9" x2="1546.5" y2="1845.9" stroke="#333333" stroke-width="4.6"/>
<text font-size="30.6" transform="translate(1511.28 1858.70) scale(1.0000 1)">0</text>
<line x1="1536.3" y1="1635.4" x2="1546.5" y2="1635.4" stroke="#333333" stroke-width="4.6"/>
<text font-size="30.6" transform="translate(1494.27 1646.39) scale(1.0000 1)">30</text>
<line x1="1536.3" y1="1424.9" x2="1546.5" y2="1424.9" stroke="#333333" stroke-width="4.6"/>
<text font-size="30.6" transform="translate(1494.27 1434.08) scale(1.0000 1)">60</text>
<line x1="1536.3" y1="1214.4" x2="1546.5" y2="1214.4" stroke="#333333" stroke-width="4.6"/>
<text font-size="30.6" transform="translate(1494.27 1221.77) scale(1.0000 1)">90</text>
<line x1="1711.9" y1="1886.0" x2="1711.9" y2="1896.5" stroke="#333333" stroke-width="4.6"/>
<line x1="1987.2" y1="1886.0" x2="1987.2" y2="1896.5" stroke="#333333" stroke-width="4.6"/>
<text font-size="30.8" transform="translate(1654.85 1928.10) scale(0.9714 1)">Baseline</text>
<text font-size="30.8" transform="translate(1958.25 1928.10) scale(0.9702 1)">EOT</text>
<text font-size="28.0" font-weight="bold" transform="translate(1702.01 1061.30) scale(0.9169 1)">n</text>
<text font-size="28.0" font-weight="bold" transform="translate(1971.01 1061.20) scale(0.9169 1)">n</text>
<line x1="1613.9" y1="1073.9" x2="1805.7" y2="1073.9" stroke="#000" stroke-width="2.8" stroke-linecap="round"/>
<line x1="1883.5" y1="1074.1" x2="2074.3" y2="1074.1" stroke="#000" stroke-width="2.8" stroke-linecap="round"/>
<text font-size="25.5" transform="translate(1617.57 1110.00) scale(0.7264 1)">49</text>
<text font-size="25.5" transform="translate(1667.50 1110.00) scale(0.6941 1)">73</text>
<text font-size="25.5" transform="translate(1717.30 1110.00) scale(0.6941 1)">73</text>
<text font-size="25.5" transform="translate(1768.04 1110.00) scale(0.6992 1)">146</text>
<text font-size="25.5" transform="translate(1893.20 1110.30) scale(0.6909 1)">50</text>
<text font-size="25.5" transform="translate(1943.76 1110.30) scale(0.6460 1)">74</text>
<text font-size="25.5" transform="translate(1993.31 1110.30) scale(0.6045 1)">71</text>
<text font-size="25.5" transform="translate(2043.98 1110.30) scale(0.6806 1)">145</text>
<text font-size="30.0" font-weight="bold" transform="translate(589.62 2033.00) scale(1.0370 1)">G</text>
<text font-size="31.5" transform="translate(890.84 2069.40) scale(0.9419 1)">Absolute change from baseline in % AR expression</text>
<rect x="747.0" y="2056.9" width="5.2" height="258.4" fill="#D7191C"/>
<rect x="752.0" y="2114.1" width="5.2" height="201.2" fill="#2E7BB6"/>
<rect x="757.1" y="2143.1" width="5.2" height="172.2" fill="#D7191C"/>
<rect x="762.1" y="2157.2" width="5.2" height="158.1" fill="#2E7BB6"/>
<rect x="767.2" y="2214.5" width="5.2" height="100.8" fill="#D7191C"/>
<rect x="772.2" y="2229.1" width="5.2" height="86.2" fill="#D7191C"/>
<rect x="777.2" y="2257.8" width="5.2" height="57.5" fill="#D7191C"/>
<rect x="782.3" y="2286.5" width="5.2" height="28.8" fill="#2E7BB6"/>
<rect x="787.3" y="2286.5" width="5.2" height="28.8" fill="#FEDE8D"/>
<rect x="792.4" y="2286.5" width="5.2" height="28.8" fill="#D7191C"/>
<rect x="797.4" y="2286.5" width="5.2" height="28.8" fill="#FEDE8D"/>
<rect x="802.4" y="2286.5" width="5.2" height="28.8" fill="#2E7BB6"/>
<rect x="807.5" y="2286.5" width="5.2" height="28.8" fill="#D7191C"/>
<rect x="812.5" y="2286.5" width="5.2" height="28.8" fill="#2E7BB6"/>
<rect x="817.6" y="2286.5" width="5.2" height="28.8" fill="#D7191C"/>
<rect x="822.6" y="2286.5" width="5.2" height="28.8" fill="#2E7BB6"/>
<rect x="827.6" y="2288.9" width="5.2" height="26.4" fill="#FEDE8D"/>
<rect x="832.7" y="2288.9" width="5.2" height="26.4" fill="#2E7BB6"/>
<rect x="837.7" y="2300.8" width="5.2" height="14.5" fill="#FEDE8D"/>
<rect x="842.8" y="2300.8" width="5.2" height="14.5" fill="#FEDE8D"/>
<rect x="847.8" y="2300.8" width="5.2" height="14.5" fill="#2E7BB6"/>
<rect x="852.8" y="2300.8" width="5.2" height="14.5" fill="#2E7BB6"/>
<rect x="857.9" y="2300.8" width="5.2" height="14.5" fill="#D7191C"/>
<rect x="862.9" y="2300.8" width="5.2" height="14.5" fill="#FEDE8D"/>
<rect x="868.0" y="2300.8" width="5.2" height="14.5" fill="#D7191C"/>
<rect x="873.0" y="2300.8" width="5.2" height="14.5" fill="#D7191C"/>
<rect x="878.0" y="2300.8" width="5.2" height="14.5" fill="#FEDE8D"/>
<rect x="883.1" y="2300.8" width="5.2" height="14.5" fill="#2E7BB6"/>
<rect x="888.1" y="2300.8" width="5.2" height="14.5" fill="#D7191C"/>
<rect x="893.2" y="2300.8" width="5.2" height="14.5" fill="#D7191C"/>
<rect x="898.2" y="2300.8" width="5.2" height="14.5" fill="#FEDE8D"/>
<rect x="903.2" y="2300.8" width="5.2" height="14.5" fill="#FEDE8D"/>
<rect x="908.3" y="2300.8" width="5.2" height="14.5" fill="#D7191C"/>
<rect x="913.3" y="2300.8" width="5.2" height="14.5" fill="#D7191C"/>
<rect x="918.4" y="2300.8" width="5.2" height="14.5" fill="#FEDE8D"/>
<rect x="923.4" y="2303.8" width="5.2" height="11.5" fill="#FEDE8D"/>
<rect x="928.4" y="2303.8" width="5.2" height="11.5" fill="#FEDE8D"/>
<rect x="933.5" y="2303.8" width="5.2" height="11.5" fill="#FEDE8D"/>
<rect x="938.5" y="2309.2" width="5.2" height="6.1" fill="#2E7BB6"/>
<rect x="943.6" y="2309.2" width="5.2" height="6.1" fill="#D7191C"/>
<rect x="948.6" y="2311.9" width="5.2" height="3.4" fill="#FEDE8D"/>
<rect x="953.6" y="2311.9" width="5.2" height="3.4" fill="#FEDE8D"/>
<rect x="958.7" y="2311.9" width="5.2" height="3.4" fill="#D7191C"/>
<rect x="1422.2" y="2315.3" width="5.2" height="4.3" fill="#D7191C"/>
<rect x="1427.2" y="2315.3" width="5.2" height="4.3" fill="#D7191C"/>
<rect x="1432.3" y="2315.3" width="5.2" height="4.3" fill="#FEDE8D"/>
<rect x="1437.3" y="2315.3" width="5.2" height="4.3" fill="#FEDE8D"/>
<rect x="1442.4" y="2315.3" width="5.2" height="4.3" fill="#2E7BB6"/>
<rect x="1447.4" y="2315.3" width="5.2" height="4.3" fill="#D7191C"/>
<rect x="1452.4" y="2315.3" width="5.2" height="7.2" fill="#FEDE8D"/>
<rect x="1457.5" y="2315.3" width="5.2" height="10.1" fill="#D7191C"/>
<rect x="1462.5" y="2315.3" width="5.2" height="12.9" fill="#D7191C"/>
<rect x="1467.6" y="2315.3" width="5.2" height="15.5" fill="#FEDE8D"/>
<rect x="1472.6" y="2315.3" width="5.2" height="15.5" fill="#D7191C"/>
<rect x="1477.6" y="2315.3" width="5.2" height="15.5" fill="#2E7BB6"/>
<rect x="1482.7" y="2315.3" width="5.2" height="15.5" fill="#2E7BB6"/>
<rect x="1487.7" y="2315.3" width="5.2" height="15.5" fill="#2E7BB6"/>
<rect x="1492.8" y="2315.3" width="5.2" height="15.5" fill="#FEDE8D"/>
<rect x="1497.8" y="2315.3" width="5.2" height="15.5" fill="#D7191C"/>
<rect x="1502.8" y="2315.3" width="5.2" height="15.5" fill="#FEDE8D"/>
<rect x="1507.9" y="2315.3" width="5.2" height="15.5" fill="#FEDE8D"/>
<rect x="1512.9" y="2315.3" width="5.2" height="15.5" fill="#D7191C"/>
<rect x="1518.0" y="2315.3" width="5.2" height="15.5" fill="#2E7BB6"/>
<rect x="1523.0" y="2315.3" width="5.2" height="15.5" fill="#D7191C"/>
<rect x="1528.0" y="2315.3" width="5.2" height="21.5" fill="#FEDE8D"/>
<rect x="1533.1" y="2315.3" width="5.2" height="29.9" fill="#D7191C"/>
<rect x="1538.1" y="2315.3" width="5.2" height="29.9" fill="#FEDE8D"/>
<rect x="1543.2" y="2315.3" width="5.2" height="29.9" fill="#D7191C"/>
<rect x="1548.2" y="2315.3" width="5.2" height="29.9" fill="#2E7BB6"/>
<rect x="1553.2" y="2315.3" width="5.2" height="29.9" fill="#2E7BB6"/>
<rect x="1558.3" y="2315.3" width="5.2" height="29.9" fill="#2E7BB6"/>
<rect x="1563.3" y="2315.3" width="5.2" height="29.9" fill="#D7191C"/>
<rect x="1568.4" y="2315.3" width="5.2" height="29.9" fill="#FEDE8D"/>
<rect x="1573.4" y="2315.3" width="5.2" height="29.9" fill="#FEDE8D"/>
<rect x="1578.4" y="2315.3" width="5.2" height="29.9" fill="#2E7BB6"/>
<rect x="1583.5" y="2315.3" width="5.2" height="29.9" fill="#FEDE8D"/>
<rect x="1588.5" y="2315.3" width="5.2" height="29.9" fill="#D7191C"/>
<rect x="1593.6" y="2315.3" width="5.2" height="44.5" fill="#2E7BB6"/>
<rect x="1598.6" y="2315.3" width="5.2" height="58.6" fill="#2E7BB6"/>
<rect x="1603.6" y="2315.3" width="5.2" height="58.6" fill="#D7191C"/>
<rect x="1608.7" y="2315.3" width="5.2" height="58.6" fill="#D7191C"/>
<rect x="1613.7" y="2315.3" width="5.2" height="58.6" fill="#2E7BB6"/>
<rect x="1618.8" y="2315.3" width="5.2" height="58.6" fill="#FEDE8D"/>
<rect x="1623.8" y="2315.3" width="5.2" height="58.6" fill="#FEDE8D"/>
<rect x="1628.8" y="2315.3" width="5.2" height="58.6" fill="#2E7BB6"/>
<rect x="1633.9" y="2315.3" width="5.2" height="73.3" fill="#FEDE8D"/>
<rect x="1638.9" y="2315.3" width="5.2" height="87.6" fill="#FEDE8D"/>
<rect x="1644.0" y="2315.3" width="5.2" height="102.0" fill="#D7191C"/>
<rect x="1649.0" y="2315.3" width="5.2" height="116.4" fill="#2E7BB6"/>
<rect x="1654.0" y="2315.3" width="5.2" height="116.4" fill="#FEDE8D"/>
<rect x="1659.1" y="2315.3" width="5.2" height="143.7" fill="#FEDE8D"/>
<rect x="1664.1" y="2315.3" width="5.2" height="172.4" fill="#D7191C"/>
<rect x="1669.2" y="2315.3" width="5.2" height="188.2" fill="#FEDE8D"/>
<rect x="1674.2" y="2315.3" width="5.2" height="202.5" fill="#2E7BB6"/>
<rect x="1679.2" y="2315.3" width="5.2" height="202.5" fill="#FEDE8D"/>
<rect x="1684.3" y="2315.3" width="5.2" height="216.9" fill="#D7191C"/>
<rect x="1689.3" y="2315.3" width="5.2" height="230.7" fill="#FEDE8D"/>
<rect x="1694.4" y="2315.3" width="5.2" height="230.7" fill="#D7191C"/>
<rect x="1699.4" y="2315.3" width="5.2" height="230.7" fill="#D7191C"/>
<rect x="1704.4" y="2315.3" width="5.2" height="287.3" fill="#2E7BB6"/>
<rect x="1709.5" y="2315.3" width="5.2" height="287.3" fill="#FEDE8D"/>
<line x1="699.4" y1="2075.4" x2="699.4" y2="2675.0" stroke="#000" stroke-width="2.8"/>
<line x1="699.4" y1="2315.9" x2="1762.0" y2="2315.9" stroke="#000" stroke-width="2.8"/>
<line x1="701.0" y1="2459.0" x2="1762.0" y2="2459.0" stroke="#000" stroke-width="2.6" stroke-dasharray="1.6 3.6"/>
<line x1="694.0" y1="2171.7" x2="699.4" y2="2171.7" stroke="#333333" stroke-width="2.0"/>
<text font-size="24.6" fill="#4D4D4D" transform="translate(652.95 2178.30) scale(1.2711 1)">50</text>
<line x1="694.0" y1="2315.3" x2="699.4" y2="2315.3" stroke="#333333" stroke-width="2.0"/>
<text font-size="24.6" fill="#4D4D4D" transform="translate(673.63 2323.40) scale(1.0120 1)">0</text>
<line x1="694.0" y1="2459.0" x2="699.4" y2="2459.0" stroke="#333333" stroke-width="2.0"/>
<text font-size="24.6" fill="#4D4D4D" transform="translate(641.59 2466.30) scale(1.2983 1)">-50</text>
<line x1="694.0" y1="2602.6" x2="699.4" y2="2602.6" stroke="#333333" stroke-width="2.0"/>
<text font-size="24.6" fill="#4D4D4D" transform="translate(624.71 2610.00) scale(1.2801 1)">-100</text>
</svg></body></html>
